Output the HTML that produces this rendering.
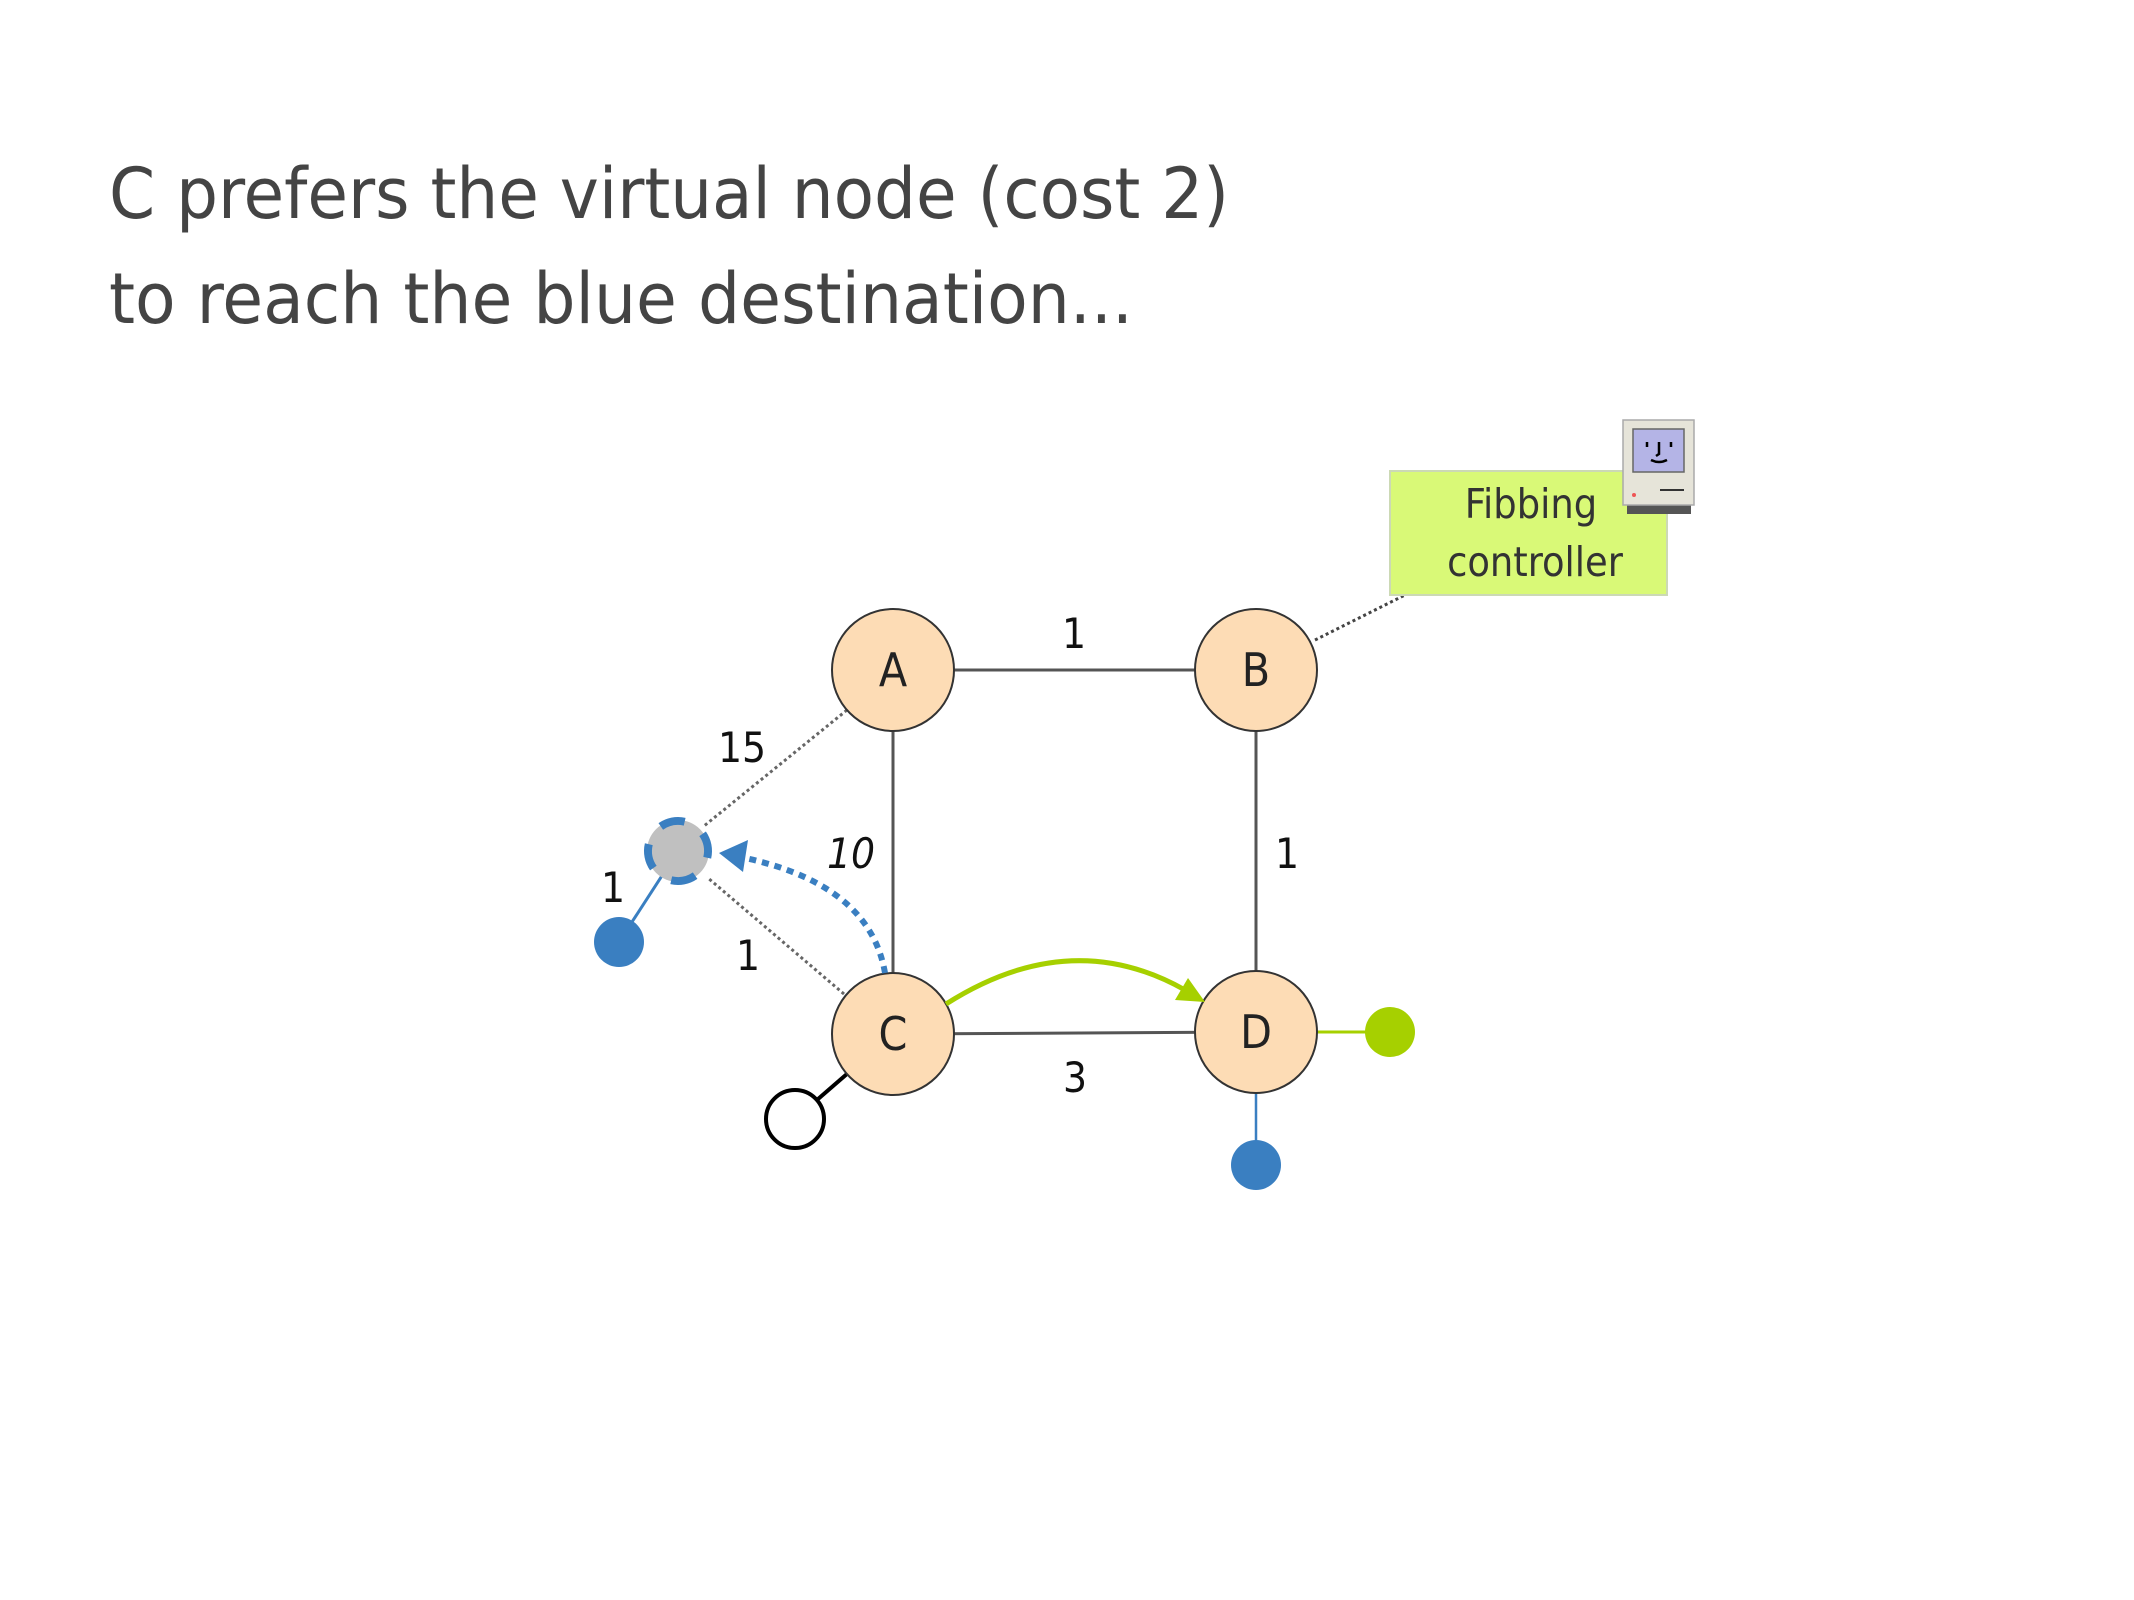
<!DOCTYPE html>
<html><head><style>
html,body{margin:0;padding:0;background:#fff;}
svg{display:block;}
text{font-family:"DejaVu Sans Condensed","Liberation Sans",sans-serif;}
</style></head><body>
<svg width="2134" height="1600" viewBox="0 0 2134 1600" xmlns="http://www.w3.org/2000/svg">
<text x="109" y="218" font-size="70" fill="#444" textLength="1120" lengthAdjust="spacingAndGlyphs">C prefers the virtual node (cost 2)</text>
<text x="109" y="323" font-size="70" fill="#444" textLength="1024" lengthAdjust="spacingAndGlyphs">to reach the blue destination...</text>

<line x1="893" y1="670" x2="1256" y2="670" stroke="#555" stroke-width="3"/>
<line x1="893" y1="670" x2="893" y2="1034" stroke="#555" stroke-width="3"/>
<line x1="1256" y1="670" x2="1256" y2="1032" stroke="#555" stroke-width="3"/>
<line x1="893" y1="1034" x2="1256" y2="1032" stroke="#555" stroke-width="3"/>
<line x1="847" y1="710" x2="704" y2="826" stroke="#666" stroke-width="3" stroke-dasharray="3,3"/>
<line x1="844" y1="994" x2="708" y2="878" stroke="#666" stroke-width="3" stroke-dasharray="3,3"/>
<line x1="1315" y1="640" x2="1405" y2="595" stroke="#444" stroke-width="3" stroke-dasharray="3,3"/>
<line x1="678" y1="851" x2="619" y2="942" stroke="#3a7fc1" stroke-width="3"/>
<line x1="1256" y1="1032" x2="1256" y2="1165" stroke="#3a7fc1" stroke-width="2.5"/>
<line x1="1256" y1="1032" x2="1390" y2="1032" stroke="#a6d000" stroke-width="3"/>
<line x1="893" y1="1034" x2="795" y2="1119" stroke="#000" stroke-width="4"/>

<rect x="1390" y="471" width="277" height="124" fill="#d9f977" stroke="#ccd9b5" stroke-width="2"/>
<text x="1531" y="518" font-size="41" fill="#333" text-anchor="middle">Fibbing</text>
<text x="1535" y="576" font-size="41" fill="#333" text-anchor="middle">controller</text>

<rect x="1627" y="502" width="64" height="12" fill="#555"/>
<rect x="1623" y="420" width="71" height="85" fill="#e6e4d9" stroke="#aaa" stroke-width="1.5"/>
<rect x="1633" y="429" width="51" height="43" fill="#b4b4e6" stroke="#666" stroke-width="1.5"/>
<path d="M1647 442v5M1659 442v12l-3 2M1671 442v5M1651 460q8 4 16 0" stroke="#000" stroke-width="2.5" fill="none"/>
<line x1="1660" y1="490" x2="1684" y2="490" stroke="#333" stroke-width="2"/>
<circle cx="1634" cy="495" r="2" fill="#e55"/>

<g fill="#fddcb5" stroke="#333" stroke-width="2">
<circle cx="893" cy="670" r="61"/>
<circle cx="1256" cy="670" r="61"/>
<circle cx="893" cy="1034" r="61"/>
<circle cx="1256" cy="1032" r="61"/>
</g>
<g font-size="46" fill="#222" text-anchor="middle">
<text x="893" y="686">A</text>
<text x="1256" y="686">B</text>
<text x="893" y="1050">C</text>
<text x="1256" y="1048">D</text>
</g>

<circle cx="678" cy="851" r="31" fill="#c0c0c0"/>
<circle cx="678" cy="851" r="30" fill="none" stroke="#3a7fc1" stroke-width="8" stroke-dasharray="25,22.1" transform="rotate(-125 678 851)"/>
<circle cx="619" cy="942" r="25" fill="#3a7fc1"/>
<circle cx="1256" cy="1165" r="25" fill="#3a7fc1"/>
<circle cx="1390" cy="1032" r="25" fill="#a6d000"/>
<circle cx="795" cy="1119" r="29" fill="#fff" stroke="#000" stroke-width="4"/>

<path d="M946 1004 Q1070 925 1185 990" stroke="#a6d000" stroke-width="5" fill="none"/>
<polygon points="1205,1002 1175,1000 1188,978" fill="#a6d000"/>
<path d="M885 973 Q870 885 745 858" stroke="#3a7fc1" stroke-width="6" stroke-dasharray="7,6" fill="none"/>
<polygon points="719,853 748,840 743,872" fill="#3a7fc1"/>

<g font-size="42" fill="#111" text-anchor="middle">
<text x="1074" y="648">1</text>
<text x="742" y="762">15</text>
<text x="851" y="868" font-style="italic">10</text>
<text x="1287" y="868">1</text>
<text x="613" y="902">1</text>
<text x="748" y="970">1</text>
<text x="1075" y="1092">3</text>
</g>
</svg>
</body></html>
